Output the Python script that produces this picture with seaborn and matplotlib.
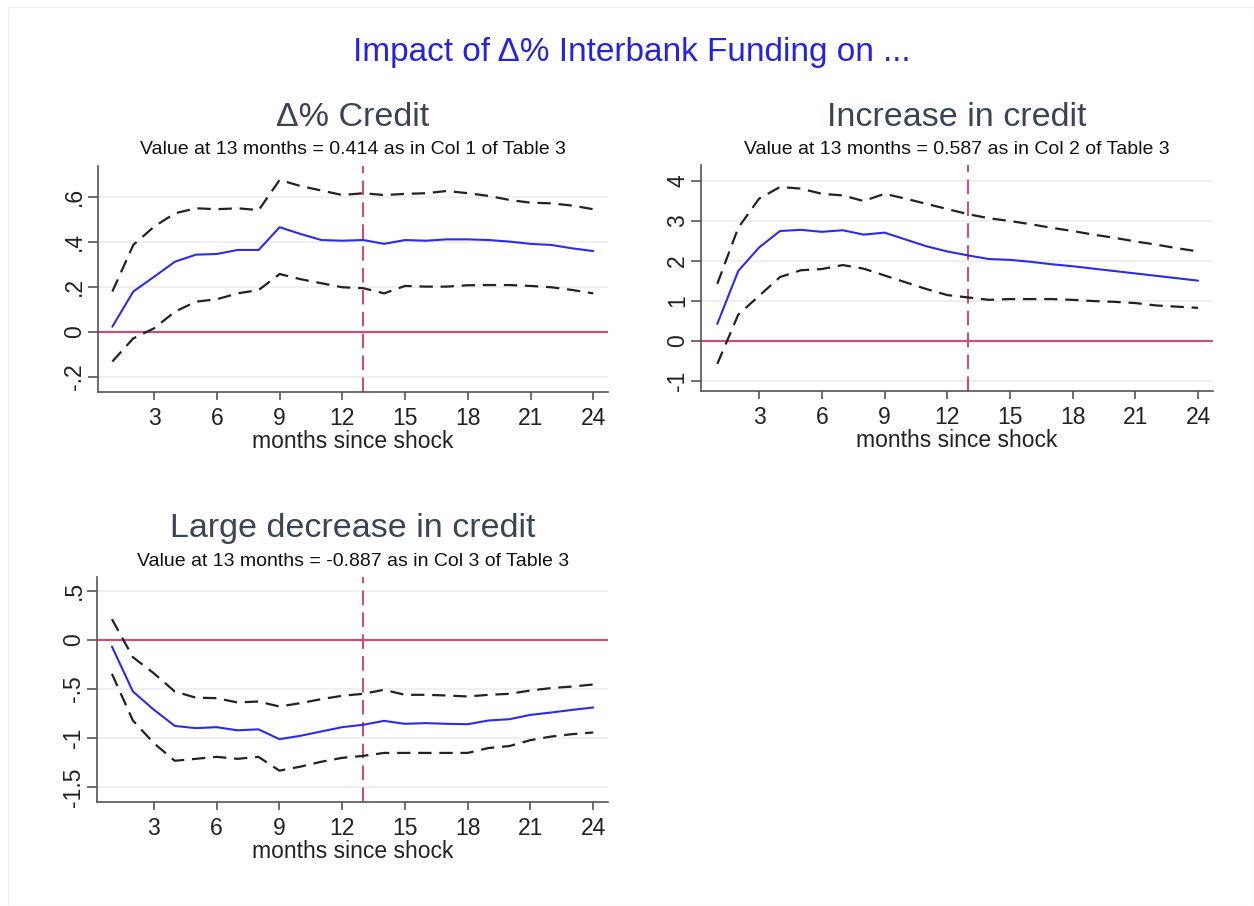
import numpy as np
import pandas as pd
import matplotlib
matplotlib.use("Agg")
import matplotlib.pyplot as plt
import seaborn as sns

# months after the shock
months = list(range(1, 25))

# panel 1: % change in credit
credit_coef = [0.022, 0.178, 0.244, 0.311, 0.342, 0.345, 0.363, 0.363, 0.464, 0.434, 0.407, 0.404,
               0.407, 0.390, 0.407, 0.404, 0.410, 0.410, 0.407, 0.400, 0.390, 0.385, 0.370, 0.358]
credit_hi = [0.178, 0.385, 0.467, 0.526, 0.548, 0.544, 0.548, 0.540, 0.674, 0.647, 0.627, 0.607,
             0.615, 0.607, 0.612, 0.615, 0.625, 0.615, 0.603, 0.585, 0.573, 0.570, 0.560, 0.544]
credit_lo = [-0.133, -0.030, 0.015, 0.089, 0.133, 0.144, 0.170, 0.185, 0.256, 0.233, 0.215, 0.197,
             0.193, 0.170, 0.203, 0.200, 0.200, 0.206, 0.207, 0.207, 0.203, 0.197, 0.185, 0.170]

# panel 2: increase in credit
incr_coef = [0.42, 1.74, 2.33, 2.74, 2.77, 2.72, 2.76, 2.65, 2.70, 2.53, 2.36, 2.23,
             2.13, 2.04, 2.02, 1.97, 1.91, 1.86, 1.80, 1.74, 1.68, 1.62, 1.56, 1.50]
incr_hi = [1.42, 2.82, 3.55, 3.84, 3.80, 3.67, 3.63, 3.49, 3.67, 3.55, 3.42, 3.29,
           3.16, 3.06, 2.99, 2.91, 2.82, 2.74, 2.65, 2.57, 2.48, 2.40, 2.31, 2.23]
incr_lo = [-0.58, 0.65, 1.12, 1.59, 1.76, 1.79, 1.89, 1.80, 1.63, 1.46, 1.29, 1.14,
           1.08, 1.02, 1.04, 1.04, 1.04, 1.02, 0.99, 0.97, 0.94, 0.88, 0.85, 0.82]

# panel 3: large decrease in credit
decr_coef = [-0.068, -0.525, -0.710, -0.875, -0.898, -0.888, -0.920, -0.910, -1.010, -0.976, -0.932, -0.888,
             -0.864, -0.824, -0.854, -0.847, -0.854, -0.858, -0.820, -0.807, -0.763, -0.739, -0.712, -0.688]
decr_hi = [0.210, -0.176, -0.340, -0.525, -0.588, -0.593, -0.637, -0.627, -0.678, -0.644, -0.603, -0.569,
           -0.549, -0.508, -0.559, -0.559, -0.566, -0.576, -0.559, -0.549, -0.515, -0.490, -0.475, -0.454]
decr_lo = [-0.346, -0.820, -1.050, -1.230, -1.210, -1.190, -1.210, -1.190, -1.330, -1.290, -1.240, -1.200,
           -1.180, -1.150, -1.150, -1.150, -1.150, -1.150, -1.100, -1.080, -1.020, -0.983, -0.959, -0.942]

titles = ["\u0394% Credit", "Increase in credit", "Large decrease in credit"]
subtitles = ["Value at 13 months = 0.414 as in Col 1 of Table 3",
             "Value at 13 months = 0.587 as in Col 2 of Table 3",
             "Value at 13 months = -0.887 as in Col 3 of Table 3"]
x_ticks = [3, 6, 9, 12, 15, 18, 21, 24]
y_ticks = [[-0.2, 0, 0.2, 0.4, 0.6], [-1, 0, 1, 2, 3, 4], [-1.5, -1, -0.5, 0, 0.5]]
y_ticklabels = [["-.2", "0", ".2", ".4", ".6"], ["-1", "0", "1", "2", "3", "4"],
                ["-1.5", "-1", "-.5", "0", ".5"]]

sns.set_theme(style="white")
plt.rcParams["font.family"] = ["Liberation Sans", "DejaVu Sans"]

W, H = 1254, 906
fig = plt.figure(figsize=(W / 100, H / 100), dpi=100)

# faint outer frame of the graph region
frame = fig.add_axes([8 / W, 0, 1 - 8 / W, 1 - 7 / H])
frame.set_xticks([])
frame.set_yticks([])
frame.patch.set_alpha(0)
for sp in frame.spines.values():
    sp.set_color("#f0f0f0")
    sp.set_linewidth(1)

def px_axes(left, top, right, bottom):
    return fig.add_axes([left / W, 1 - bottom / H, (right - left) / W, (bottom - top) / H])

# axes box, limits, title centre (x, y) and subtitle y, all in pixels
panels = [
    (px_axes(97.7, 166, 608.3, 391.7), credit_coef, credit_hi, credit_lo, (0.30, 24.72), (-0.267, 0.736),
     353, 117, 150),
    (px_axes(701, 165, 1212.7, 390.7), incr_coef, incr_hi, incr_lo, (0.22, 24.7), (-1.25, 4.39),
     957, 117, 150),
    (px_axes(97.3, 577.3, 608.3, 801.7), decr_coef, decr_hi, decr_lo, (0.30, 24.72), (-1.646, 0.636),
     353, 528, 562),
]

red = "#c9507a"
title_col = "#3a4358"

for i, (ax, coef, hi, lo, xl, yl, tx, ty, sy) in enumerate(panels):
    df = pd.DataFrame({"month": months, "coef": coef, "hi": hi, "lo": lo})
    for yt in y_ticks[i]:
        ax.axhline(yt, color="#ededed", lw=1.2, zorder=0)
    ax.axhline(0, color=red, lw=1.6, zorder=1)
    ax.axvline(13, color=red, lw=1.5, ls=(0, (7, 3.5)), zorder=1)
    sns.lineplot(data=df, x="month", y="hi", ax=ax, color="#222222", lw=1.6,
                 linestyle=(0, (6, 3.5)), zorder=3)
    sns.lineplot(data=df, x="month", y="lo", ax=ax, color="#222222", lw=1.6,
                 linestyle=(0, (6, 3.5)), zorder=3)
    sns.lineplot(data=df, x="month", y="coef", ax=ax, color="#2b2bef", lw=1.5, zorder=4)
    ax.set_xlim(*xl)
    ax.set_ylim(*yl)
    ax.set_xticks(x_ticks)
    ax.set_yticks(y_ticks[i])
    ax.set_yticklabels(y_ticklabels[i], rotation=90, va="center")
    ax.set_xlabel("months since shock", fontsize=16.5, color="#222222", labelpad=0)
    ax.set_ylabel("")
    ax.tick_params(axis="x", direction="out", length=6, width=1.2, color="#555555",
                   labelsize=16.5, labelcolor="#222222", pad=5, bottom=True)
    ax.tick_params(axis="y", direction="out", length=7, width=1.2, color="#555555",
                   labelsize=16.5, labelcolor="#222222", pad=1.5, left=True)
    sns.despine(ax=ax)
    for sp in ["left", "bottom"]:
        ax.spines[sp].set_color("#555555")
        ax.spines[sp].set_linewidth(1.2)
    fig.text(tx / W, 1 - sy / H, subtitles[i], ha="center", va="center",
             fontsize=14, color="#111111")
    fig.text(tx / W, 1 - ty / H, titles[i], ha="center", va="center",
             fontsize=24.5, color=title_col)

fig.text(632 / W, 1 - 52 / H, "Impact of \u0394% Interbank Funding on ...", ha="center",
         va="center", fontsize=24, color="#2323e6")

fig.savefig("out.png", dpi=100, facecolor="white")
